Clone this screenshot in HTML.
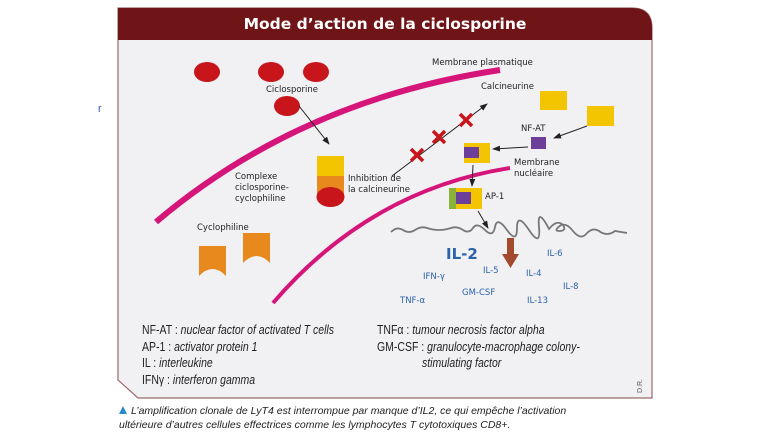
<!DOCTYPE html>
<html><head><meta charset="utf-8"><style>
html,body{margin:0;padding:0;background:#fff;}
body{width:760px;height:438px;position:relative;overflow:hidden;font-family:"Liberation Sans",sans-serif;}
</style></head><body>
<svg width="760" height="438" viewBox="0 0 760 438" xmlns="http://www.w3.org/2000/svg" style="position:absolute;left:0;top:0">
<defs>
<marker id="ar" markerWidth="8" markerHeight="8" refX="7" refY="4" orient="auto" markerUnits="userSpaceOnUse">
<path d="M0,1 L8,4 L0,7 Z" fill="#222"/></marker>
</defs>
<path d="M118,8 L632,8 Q652,8 652,28 L652,398 L138,398 L118,380 Z" fill="#f1f0f3" stroke="#9b6a6a" stroke-width="1.2"/>
<path d="M118,8 L632,8 Q652,8 652,28 L652,40 L118,40 Z" fill="#6f1518"/>
<text x="385" y="29" text-anchor="middle" fill="#fff" font-family="'DejaVu Sans',sans-serif" font-weight="bold" font-size="15.5">Mode d’action de la ciclosporine</text>
<text x="98" y="112" fill="#2a63a8" font-size="11">r</text>

<path d="M156,222 Q300,100 500,70" fill="none" stroke="#d6157a" stroke-width="6"/>
<path d="M273,303 Q370,190 510,168" fill="none" stroke="#d6157a" stroke-width="4"/>

<g fill="#c8151b">
<ellipse cx="207" cy="72" rx="13" ry="10"/>
<ellipse cx="271" cy="72" rx="13" ry="10"/>
<ellipse cx="316" cy="72" rx="13" ry="10"/>
<ellipse cx="287" cy="106" rx="13" ry="10"/>
</g>
<g font-family="'DejaVu Sans',sans-serif" font-size="8.5" fill="#222">
<text x="266" y="92">Ciclosporine</text>
<text x="432" y="65">Membrane plasmatique</text>
<text x="481" y="89">Calcineurine</text>
<text x="521" y="131">NF-AT</text>
<text x="514" y="165">Membrane</text>
<text x="514" y="176">nucléaire</text>
<text x="485" y="199">AP-1</text>
<text x="235" y="179">Complexe</text>
<text x="235" y="190">ciclosporine-</text>
<text x="235" y="201">cyclophiline</text>
<text x="348" y="181">Inhibition de</text>
<text x="348" y="192">la calcineurine</text>
<text x="197" y="230">Cyclophiline</text>
</g>
<line x1="299" y1="106" x2="329" y2="144" stroke="#222" stroke-width="1" marker-end="url(#ar)"/>

<rect x="317" y="156" width="27" height="20" fill="#f2c500"/>
<rect x="317" y="176" width="27" height="18" fill="#e8891e"/>
<ellipse cx="330.5" cy="197" rx="14" ry="10" fill="#c8151b"/>

<path d="M199,246 h27 v30 q-13.5,-14 -27,0 z" fill="#e8891e"/>
<path d="M243,233 h27 v30 q-13.5,-14 -27,0 z" fill="#e8891e"/>

<line x1="392" y1="176" x2="487" y2="104" stroke="#222" stroke-width="1" marker-end="url(#ar)"/>
<g stroke="#c8151b" stroke-width="3.5">
<path d="M411,149 l12,12 M423,149 l-12,12"/>
<path d="M433,131 l12,12 M445,131 l-12,12"/>
<path d="M460,114 l12,12 M472,114 l-12,12"/>
</g>

<rect x="540" y="91" width="27" height="19" fill="#f2c500"/>
<rect x="587" y="106" width="27" height="20" fill="#f2c500"/>
<rect x="531" y="137" width="15" height="12" fill="#6b3f9a"/>
<line x1="587" y1="126" x2="554" y2="138" stroke="#222" stroke-width="1" marker-end="url(#ar)"/>
<line x1="528" y1="147" x2="493" y2="149" stroke="#222" stroke-width="1" marker-end="url(#ar)"/>
<rect x="464" y="143" width="26" height="20" fill="#f2c500"/>
<rect x="464" y="147" width="15" height="11" fill="#6b3f9a"/>
<line x1="473" y1="165" x2="472" y2="186" stroke="#222" stroke-width="1" marker-end="url(#ar)"/>
<rect x="449" y="188" width="33" height="21" fill="#f2c500"/>
<rect x="449" y="188" width="7" height="21" fill="#8ab33a"/>
<rect x="456" y="192" width="15" height="12" fill="#6b3f9a"/>
<line x1="478" y1="211" x2="488" y2="228" stroke="#222" stroke-width="1" marker-end="url(#ar)"/>

<path d="M391,232 q6,-6 12,-2 t12,0 t12,-2 t12,2 t12,-2 t12,2 t10,-2 t12,2 t10,-3 t12,3 t10,-2 t12,2 t10,-3 t10,2 q8,-10 14,-4 q4,6 -4,6 q-6,0 2,-6 q6,-2 12,6 q8,10 14,2 q6,-6 12,-2 q8,6 16,0 l12,2" fill="none" stroke="#777" stroke-width="1.8"/>

<rect x="507" y="238" width="7" height="18" fill="#a34a2e"/>
<path d="M502,254 h17 l-8.5,14 z" fill="#a34a2e"/>

<g font-family="'DejaVu Sans',sans-serif" fill="#2a63a8" font-size="8.5">
<text x="446" y="259" font-size="15" font-weight="bold">IL-2</text>
<text x="547" y="256">IL-6</text>
<text x="423" y="279">IFN-γ</text>
<text x="483" y="273">IL-5</text>
<text x="526" y="276">IL-4</text>
<text x="563" y="289">IL-8</text>
<text x="462" y="295">GM-CSF</text>
<text x="400" y="303">TNF-α</text>
<text x="527" y="303">IL-13</text>
</g>

<g font-family="'Liberation Sans',sans-serif" font-size="12.5" fill="#222">
<text transform="translate(142,334) scale(0.84,1)">NF-AT : <tspan font-style="italic">nuclear factor of activated T cells</tspan></text>
<text transform="translate(142,351) scale(0.84,1)">AP-1 : <tspan font-style="italic">activator protein 1</tspan></text>
<text transform="translate(142,367) scale(0.84,1)">IL : <tspan font-style="italic">interleukine</tspan></text>
<text transform="translate(142,384) scale(0.84,1)">IFNγ : <tspan font-style="italic">interferon gamma</tspan></text>
<text transform="translate(377,334) scale(0.84,1)">TNFα : <tspan font-style="italic">tumour necrosis factor alpha</tspan></text>
<text transform="translate(377,351) scale(0.84,1)">GM-CSF : <tspan font-style="italic">granulocyte-macrophage colony-</tspan></text>
<text transform="translate(422,367) scale(0.84,1)" font-style="italic">stimulating factor</text>
</g>
<text x="0" y="0" transform="translate(642,393) rotate(-90)" font-size="7" fill="#555">D.R.</text>

<path d="M119,414 l4,-8 l4,8 z" fill="#2a8ac8"/>
<g font-size="10.5" font-style="italic" fill="#222">
<text x="131" y="414">L’amplification clonale de LyT4 est interrompue par manque d’IL2, ce qui empêche l’activation</text>
<text x="119" y="428">ultérieure d’autres cellules effectrices comme les lymphocytes T cytotoxiques CD8+.</text>
</g>
</svg>
</body></html>
